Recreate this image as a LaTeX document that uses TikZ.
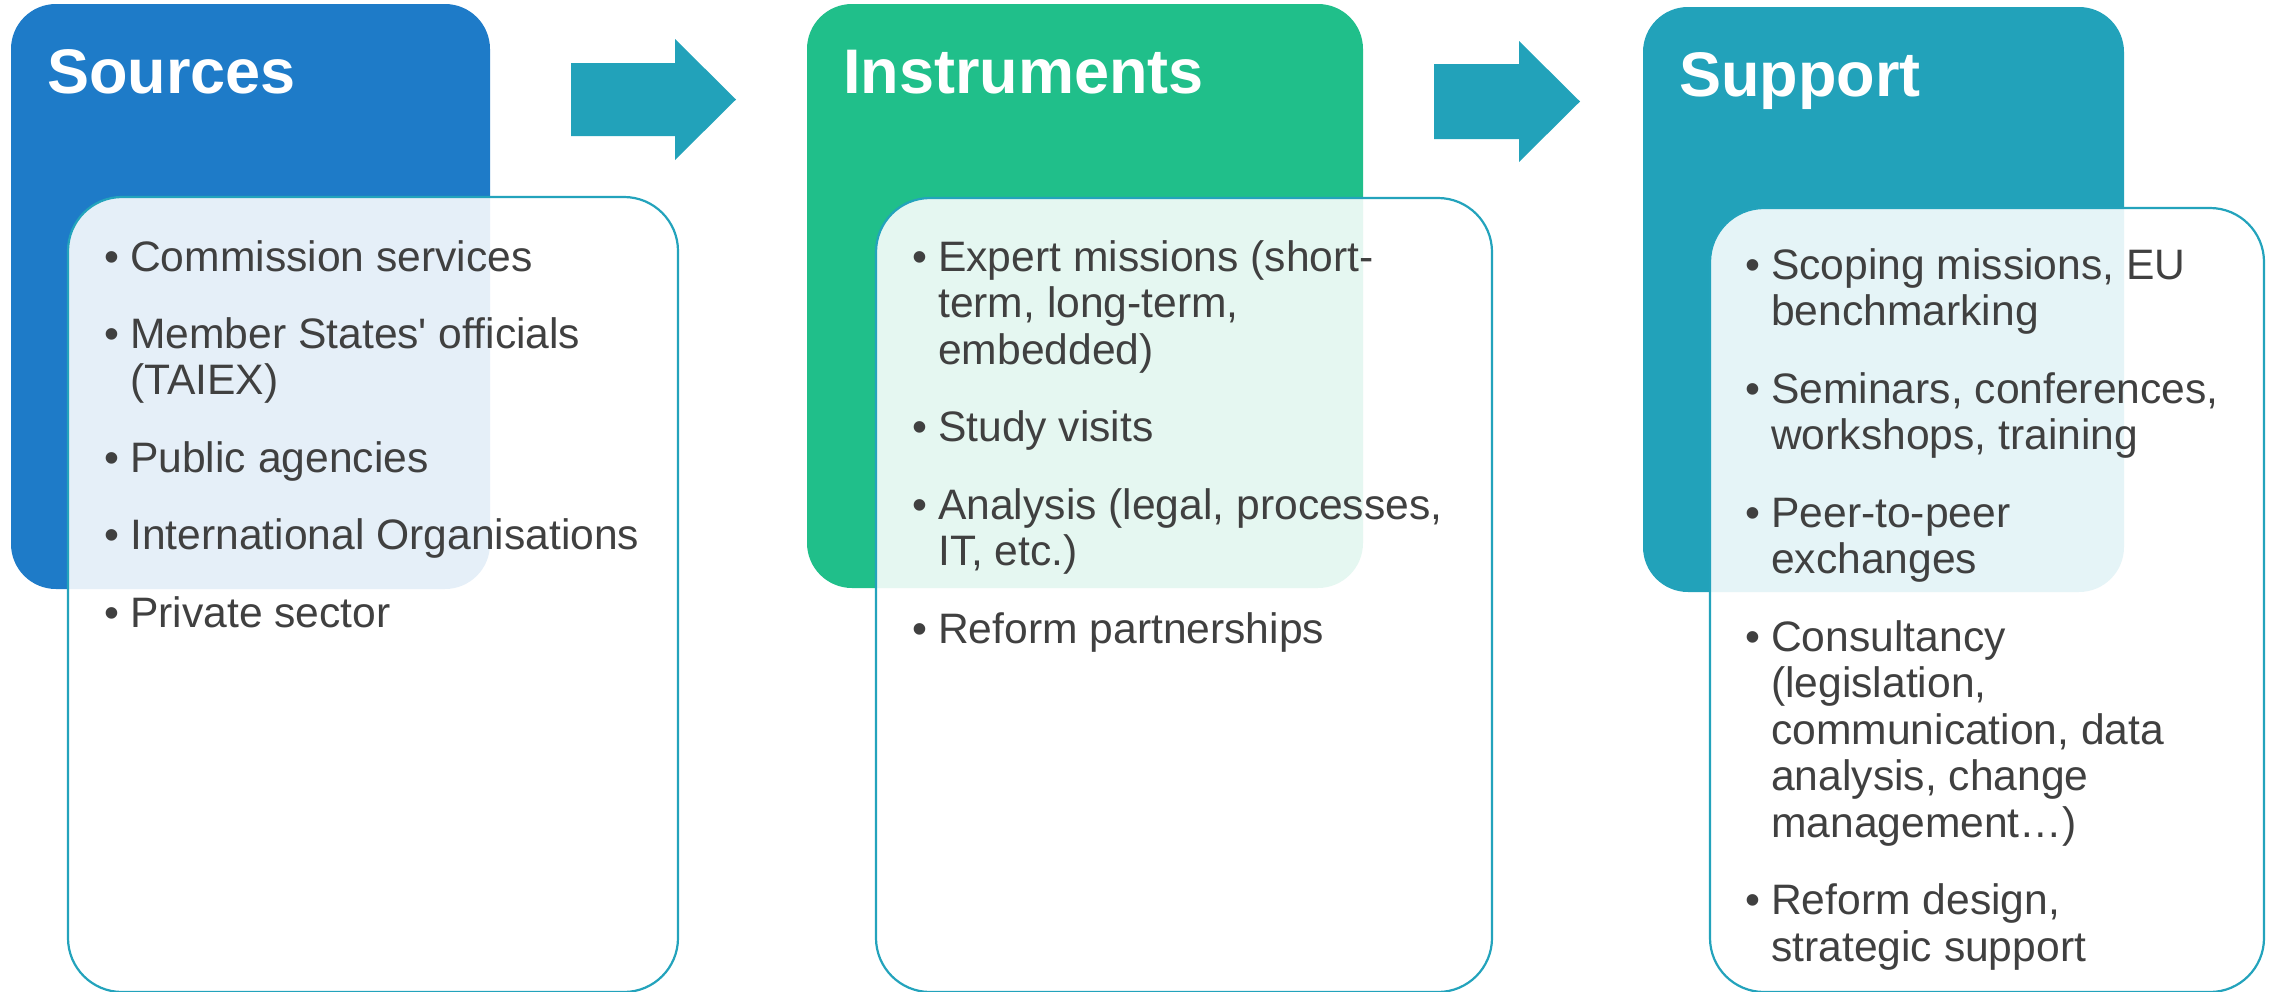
\documentclass[tikz,border=0pt]{standalone}
\usepackage{fontspec}
\setmainfont{Liberation Sans}
\definecolor{srcblue}{RGB}{30,123,200}
\definecolor{insgreen}{RGB}{32,191,138}
\definecolor{supteal}{RGB}{34,162,186}
\definecolor{edgeteal}{RGB}{35,163,188}
\definecolor{bodytext}{RGB}{64,64,64}

% one bullet item: name, text x, first baseline y, list of lines
\newcommand\bulletlines[4]{%
  \node[dot] (#1-dot) at ({#2-18},#3) {•};
  \foreach \ln [count=\k from 0] in {#4}
    \node[entry] (#1-\k) at (#2,{#3+46.5*\k}) {\ln};
}

\begin{document}
\begin{tikzpicture}[x=1pt,y=-1pt,
  header/.style={anchor=north west,inner sep=0pt,outer sep=0pt,
    rounded corners=45pt,draw=none},
  panel/.style={anchor=north west,inner sep=0pt,outer sep=0pt,
    rounded corners=54pt,fill=white,fill opacity=0.885,
    draw=edgeteal,line width=2.2pt},
  title/.style={anchor=base west,inner sep=0pt,text=white,
    font=\fontsize{63}{70}\selectfont\bfseries},
  entry/.style={anchor=base west,inner sep=0pt,text=bodytext,
    font=\fontsize{42.6}{46.5}\selectfont},
  dot/.style={anchor=base,inner sep=0pt,text=bodytext,
    font=\fontsize{42.6}{46.5}\selectfont},
  blockarrow/.style={fill=supteal,draw=none}
]
\useasboundingbox (0,0) rectangle (2276,991);

% column headers
\node[header,fill=srcblue,minimum width=479pt,minimum height=585pt] (srchead) at (11,4) {};
\node[header,fill=insgreen,minimum width=556pt,minimum height=584pt] (inshead) at (807,4) {};
\node[header,fill=supteal,minimum width=481pt,minimum height=585pt] (suphead) at (1643,7) {};

\node[title] (srctitle) at (47,93) {Sources};
\node[title] (institle) at (843,93) {Instruments};
\node[title] (suptitle) at (1679,96) {Support};

% translucent content panels
\node[panel,minimum width=610pt,minimum height=795pt] (srcpanel) at (68,197) {};
\node[panel,minimum width=616pt,minimum height=794pt] (inspanel) at (876,198) {};
\node[panel,minimum width=554pt,minimum height=784pt] (suppanel) at (1710,208) {};

% block arrows between the columns
\coordinate (a1) at (571,63);
\coordinate (a2) at (1434,64);
\fill[blockarrow] (a1) -- ++(104,0) -- ++(0,-24) -- ++(61,60.5) -- ++(-61,60.5)
  -- ++(0,-24) -- ++(-104,0) -- cycle;
\fill[blockarrow] (a2) -- ++(85,0) -- ++(0,-23) -- ++(61,60.5) -- ++(-61,60.5)
  -- ++(0,-23) -- ++(-85,0) -- cycle;

% Sources list
\bulletlines{s1}{130}{271}{{Commission services}}
\bulletlines{s2}{130}{348}{{Member States\textquotesingle{} officials},{(TAIEX)}}
\bulletlines{s3}{130}{472}{{Public agencies}}
\bulletlines{s4}{130}{549.5}{{International Organisations}}
\bulletlines{s5}{130}{627}{{Private sector}}

% Instruments list
\bulletlines{i1}{938}{271}{{Expert missions (short-},{term, long-term,},{embedded)}}
\bulletlines{i2}{938}{441.5}{{Study visits}}
\bulletlines{i3}{938}{519}{{Analysis (legal, processes,},{IT, etc.)}}
\bulletlines{i4}{938}{643}{{Reform partnerships}}

% Support list
\bulletlines{p1}{1771}{279}{{Scoping missions, EU},{benchmarking}}
\bulletlines{p2}{1771}{403}{{Seminars, conferences,},{workshops, training}}
\bulletlines{p3}{1771}{527}{{Peer-to-peer},{exchanges}}
\bulletlines{p4}{1771}{651}{{Consultancy},{(legislation,},{communication, data},{analysis, change},{management…)}}
\bulletlines{p5}{1771}{914.5}{{Reform design,},{strategic support}}
\end{tikzpicture}
\end{document}
